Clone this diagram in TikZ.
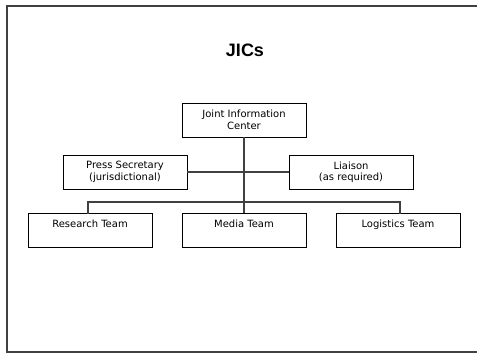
\documentclass[tikz,border=0pt]{standalone}
\usepackage{fontspec}
\setmainfont{DejaVu Sans}
\newfontfamily\titlefont{Liberation Sans}
\usepackage{tikz}
\usetikzlibrary{positioning}

\begin{document}
\begin{tikzpicture}[x=1pt,y=-1pt,line cap=rect]
				\definecolor{custcol_0_0_0}{RGB}{0, 0, 0}
				\definecolor{custcol_40_40_40}{RGB}{64, 64, 64}
				\tikzset{
					orgbox/.style={draw=custcol_0_0_0, line width=0.9pt, minimum width=124pt, minimum height=34pt, inner sep=3pt, align=center, font=\fontsize{10pt}{11.5pt}\selectfont},
					teambox/.style={orgbox, text height=11.5pt, text depth=16pt, inner sep=3pt},
					orgline/.style={draw=custcol_40_40_40, line width=1.1pt}
				}
				\useasboundingbox (0,0) rectangle (477,354);
				% slide frame
				\draw [line width=1.6pt, custcol_40_40_40 ]  (478.0,6.0) -- (7.0,6.0) -- (7.0,352.0) -- (478.0,352.0) ;
				\node[custcol_0_0_0, font=\titlefont\fontsize{18pt}{18pt}\bfseries] (title) at (245.0,50.0) {JICs};
				% boxes
				\node[orgbox] (jic) at (244.0,120.0) {Joint Information\\Center};
				\node[orgbox] (press) at (125.0,172.0) {Press Secretary\\(jurisdictional)};
				\node[orgbox] (liaison) at (351.0,172.0) {Liaison\\(as required)};
				\node[teambox] (research) at (90.0,230.0) {Research Team};
				\node[teambox] (media) at (244.0,230.0) {Media Team};
				\node[teambox] (logistics) at (398.0,230.0) {Logistics Team};
				% connectors
				\coordinate (bus) at (jic.south |- 0,202.0);
				\coordinate (rdrop) at (88.0,213.0);
				\coordinate (ldrop) at (400.0,213.0);
				\draw [orgline]  (jic.south) -- (media.north) ;
				\draw [orgline]  (press.east) -- (liaison.west) ;
				\draw [orgline]  (rdrop) -- (rdrop |- bus) -- (ldrop |- bus) -- (ldrop) ;
\end{tikzpicture}
\end{document}
